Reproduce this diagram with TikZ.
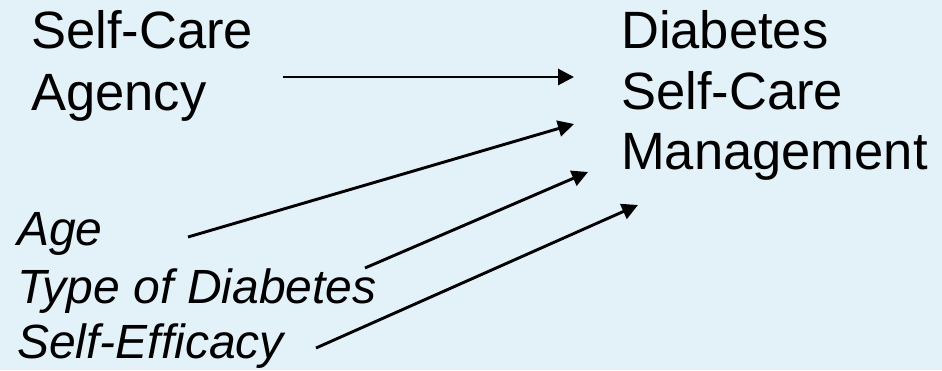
\documentclass[tikz,border=0pt]{standalone}
\usepackage{fontspec}
\setmainfont{Liberation Sans}
\usetikzlibrary{arrows.meta}
\definecolor{bgblue}{RGB}{227,241,249}
\tikzset{
  bigtxt/.style={anchor=base west, inner sep=0pt, font=\fontsize{52.5}{60}\selectfont},
  ittxt/.style={anchor=base west, inner sep=0pt, font=\fontsize{48}{56}\selectfont\itshape},
  arr/.style={line width=2.9pt, -{Triangle[length=16pt,width=16pt]}}
}
\begin{document}
\begin{tikzpicture}[x=1pt,y=-1pt]
\fill[bgblue] (0,0) rectangle (942,370);
\useasboundingbox (0,0) rectangle (942,370);
% left upper block
\node[bigtxt] (sca1) at (31,48) {Self-Care};
\node[bigtxt] (sca2) at (31,110) {Agency};
% right block
\node[bigtxt] (dm1) at (621,48) {Diabetes};
\node[bigtxt] (dm2) at (621,109) {Self-Care};
\node[bigtxt] (dm3) at (621,169) {Management};
% italic factors
\node[ittxt] (age) at (17,245) {Age};
\node[ittxt] (type) at (17,303) {Type of Diabetes};
\node[ittxt] (eff) at (17,358) {Self-Efficacy};
% arrow end points
\coordinate (s0) at (283,77);
\coordinate (t0) at (574,77);
\coordinate (s1) at (188,237);
\coordinate (t1) at (574,124);
\coordinate (s2) at (365,268);
\coordinate (t2) at (588,172);
\coordinate (s3) at (316,348);
\coordinate (t3) at (638,205);
\draw[arr] (s0) -- (t0);
\draw[arr] (s1) -- (t1);
\draw[arr] (s2) -- (t2);
\draw[arr] (s3) -- (t3);
\end{tikzpicture}
\end{document}
